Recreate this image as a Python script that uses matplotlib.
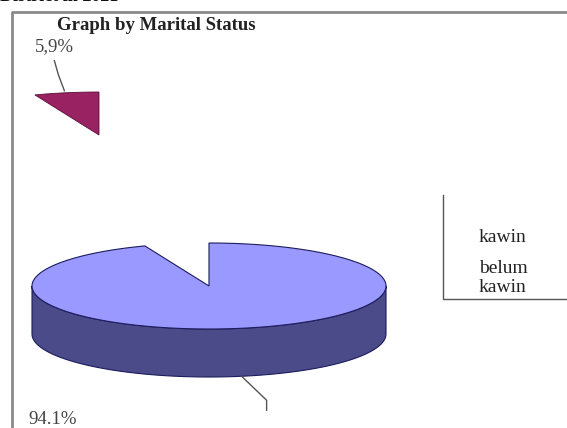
import numpy as np
import matplotlib
matplotlib.use("Agg")
import matplotlib.pyplot as plt
from matplotlib.patches import Polygon

# ---- data ----
categories = ["kawin", "belum kawin"]
legend_labels = ["kawin", "belum\nkawin"]
values = [94.1, 5.9]
pct_labels = ["94.1%", "5,9%"]
title = "Graph by Marital Status"
header = "District in 2021"

# ---- layout / style ----
W, H = 567, 428
cx, cy = 209, 286          # pie centre (px)
rx, ry = 177, 43           # ellipse radii
depth = 48                 # 3-D thickness
explode_shift = (-110, -151)
col_top = "#9999FF"
col_side = "#4B4B8A"
col_small = "#992262"
edge = "#1c1c5e"
serif = ["Liberation Serif", "DejaVu Serif"]

fig = plt.figure(figsize=(W / 100, H / 100), dpi=100)
ax = fig.add_axes([0, 0, 1, 1])
ax.set_xlim(0, W)
ax.set_ylim(H, 0)
ax.axis("off")

total = sum(values)
small_span = 360.0 * values[1] / total
a0 = 90.0                  # small slice starts at 12 o'clock
a1 = a0 + small_span


def pt(t, ox=0.0, oy=0.0, dz=0.0):
    r = np.radians(t)
    return (ox + cx + rx * np.cos(r), oy + cy - ry * np.sin(r) + dz)


# side (front visible part of main slice)
ts = np.linspace(180, 360, 120)
side = [pt(t) for t in ts] + [pt(t, dz=depth) for t in ts[::-1]]
ax.add_patch(Polygon(side, closed=True, fc=col_side, ec=edge, lw=0.8, zorder=2))

# main slice top face
tm = np.linspace(a1, a0 + 360, 400)
top = [(cx, cy)] + [pt(t) for t in tm]
ax.add_patch(Polygon(top, closed=True, fc=col_top, ec=edge, lw=0.8, zorder=3))

# exploded small slice (top face only)
ox, oy = explode_shift
tsm = np.linspace(a0, a1, 30)
small = [(ox + cx, oy + cy)] + [pt(t, ox, oy) for t in tsm]
ax.add_patch(Polygon(small, closed=True, fc=col_small, ec="#5a1038", lw=0.6, zorder=3))

# leader lines
mid_main = (a1 + a0 + 360) / 2
p = pt(mid_main, dz=depth)
ax.plot([p[0], p[0] + 25, p[0] + 25], [p[1], p[1] + 24, p[1] + 34],
        color="#555555", lw=1.0, zorder=4)
mid_small = (a0 + a1) / 2
q = pt(mid_small, ox, oy)
ax.plot([q[0] - 2, q[0] - 8, q[0] - 12], [q[1] - 2, q[1] - 18, q[1] - 32],
        color="#555555", lw=1.0, zorder=4)

# labels
ax.text(54, 47, pct_labels[1], family=serif, fontsize=13.5, color="#444444",
        ha="center", va="center")
ax.text(53, 419, pct_labels[0], family=serif, fontsize=13.5, color="#444444",
        ha="center", va="center")

# frame
ax.plot([12, 12, W], [H, 12, 12], color="#8a8a8a", lw=2.0, solid_capstyle="butt")

# title & clipped header
ax.text(156, 25, title, family=serif, fontsize=13.5, fontweight="bold",
        ha="center", va="center", color="#222222")
ax.text(0, -4, header, family=serif, fontsize=13, fontweight="bold",
        ha="left", va="center", color="#111111")

# legend box (swatches lost in original)
ax.plot([443, 443, W], [195, 299, 299], color="#555555", lw=1.0)
ax.text(479, 237, legend_labels[0], family=serif, fontsize=14,
        ha="left", va="center", color="#222222")
ax.text(479, 278, legend_labels[1], family=serif, fontsize=14,
        ha="left", va="center", color="#222222", linespacing=1.15)

fig.savefig("out.png", dpi=100)
